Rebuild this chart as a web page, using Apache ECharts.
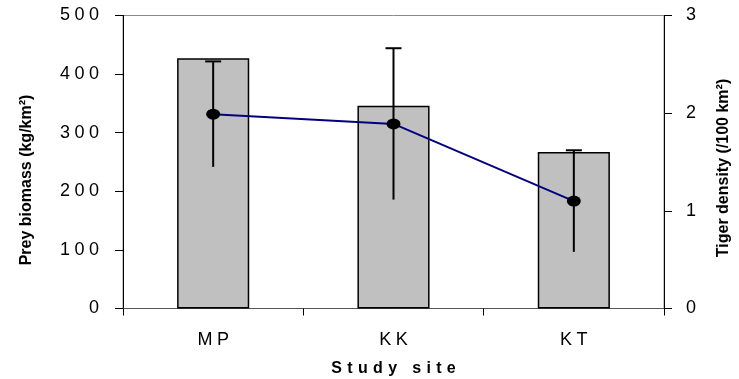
<!DOCTYPE html>
<html>
<head>
<meta charset="utf-8">
<script src="https://cdn.jsdelivr.net/npm/echarts@6/dist/echarts.min.js"></script>
<style>
  html, body { margin: 0; padding: 0; background: #fff; }
  #chart { width: 739px; height: 379px; }
</style>
</head>
<body>
<div id="chart"></div>
<script>
// Study sites and measurements
const sites = ['MP', 'KK', 'KT'];
const preyBiomass = [427, 346, 267];          // kg/km²
const tigerDensity = [1.99, 1.89, 1.10];      // per 100 km²
const tigerError = [0.54, 0.775, 0.52];       // ± error
const preyAxis = { min: 0, max: 500, interval: 100 };
const tigerAxis = { min: 0, max: 3, interval: 1 };

const FONT = '"Liberation Sans", Arial, sans-serif';
// widen text the way the axis labels are set
const spaced = (s, gap = '\u2005') => String(s).split('').join(gap);

const chart = echarts.init(document.getElementById('chart'), null, { renderer: 'canvas' });

const titleStyle = (text) => ({
  text,
  fontFamily: FONT,
  fontSize: 16,
  fontWeight: 'bold',
  fill: '#000',
  align: 'center',
  verticalAlign: 'middle'
});

chart.setOption({
  animation: false,
  backgroundColor: '#fff',
  grid: {
    left: 123, right: 75, top: 15.5, bottom: 70.5,
    outerBoundsMode: 'none',
    containLabel: false,
    show: true, borderColor: '#8a8a8a', borderWidth: 1, backgroundColor: 'transparent'
  },
  graphic: [
    { type: 'text', x: 27, y: 180, rotation: Math.PI / 2, style: titleStyle('Prey biomass (kg/km²)') },
    { type: 'text', x: 724, y: 168, rotation: Math.PI / 2, style: titleStyle('Tiger density (/100 km²)') }
  ],
  xAxis: {
    type: 'category',
    data: sites,
    boundaryGap: true,
    axisLine: { lineStyle: { color: '#555', width: 1 } },
    axisTick: { show: true, inside: false, length: 7, lineStyle: { color: '#000' } },
    axisLabel: {
      margin: 23, color: '#000', fontFamily: FONT, fontSize: 18,
      formatter: v => spaced(v)
    },
    name: spaced('Study', '\u2004') + '\u2004 \u2004' + spaced('site', '\u2004'),
    nameLocation: 'middle',
    nameGap: 52,
    nameTextStyle: { color: '#000', fontFamily: FONT, fontSize: 16, fontWeight: 'bold' }
  },
  yAxis: [
    {
      type: 'value',
      min: preyAxis.min, max: preyAxis.max, interval: preyAxis.interval,
      position: 'left',
      axisLine: { show: true, lineStyle: { color: '#000', width: 1 } },
      axisTick: { show: true, length: 8, lineStyle: { color: '#000' } },
      splitLine: { show: false },
      axisLabel: {
        margin: 24, color: '#000', fontFamily: FONT, fontSize: 18,
        formatter: v => spaced(v)
      }
    },
    {
      type: 'value',
      min: tigerAxis.min, max: tigerAxis.max, interval: tigerAxis.interval,
      position: 'right',
      axisLine: { show: true, lineStyle: { color: '#000', width: 1 } },
      axisTick: { show: true, length: 8, lineStyle: { color: '#000' } },
      splitLine: { show: false },
      axisLabel: { margin: 22, color: '#000', fontFamily: FONT, fontSize: 18 }
    }
  ],
  series: [
    {
      name: 'Prey biomass',
      type: 'bar',
      yAxisIndex: 0,
      data: preyBiomass,
      barWidth: '40%',
      itemStyle: { color: '#c0c0c0', borderColor: '#000', borderWidth: 1.5 },
      z: 2
    },
    {
      name: 'Tiger density error',
      type: 'custom',
      yAxisIndex: 1,
      data: sites.map((s, i) => [i, tigerDensity[i], tigerError[i]]),
      encode: { x: 0, y: 1 },
      renderItem: (params, api) => {
        const i = api.value(0);
        const v = api.value(1);
        const e = api.value(2);
        const hi = api.coord([i, v + e]);
        const lo = api.coord([i, v - e]);
        const half = 8;
        return {
          type: 'group',
          children: [
            { type: 'line', shape: { x1: hi[0], y1: hi[1], x2: lo[0], y2: lo[1] },
              style: { stroke: '#000', lineWidth: 2 } },
            { type: 'line', shape: { x1: hi[0] - half, y1: hi[1], x2: hi[0] + half, y2: hi[1] },
              style: { stroke: '#000', lineWidth: 2 } }
          ]
        };
      },
      z: 3
    },
    {
      name: 'Tiger density',
      type: 'line',
      yAxisIndex: 1,
      data: tigerDensity,
      symbol: 'circle',
      symbolSize: [14, 11],
      itemStyle: { color: '#000' },
      lineStyle: { color: '#000080', width: 2 },
      z: 4
    }
  ]
});
</script>
</body>
</html>
